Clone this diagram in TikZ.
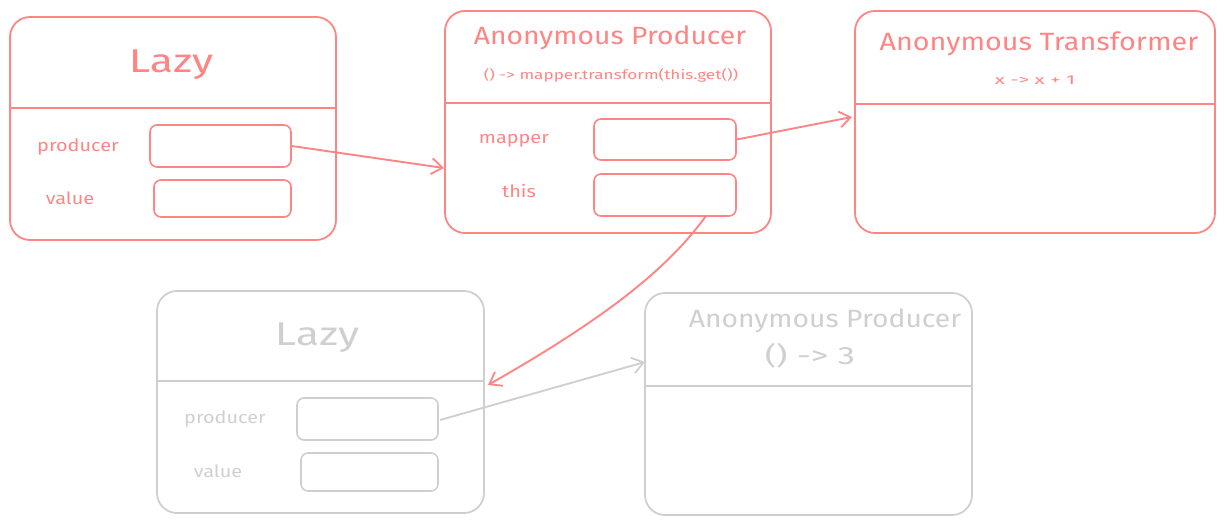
\documentclass[tikz,border=0pt]{standalone}
\usepackage{graphicx}
\usepackage{fontspec}
\setmainfont{Fira Sans}
\usetikzlibrary{arrows.meta}
\definecolor{rd}{HTML}{FF8585}
\definecolor{gy}{HTML}{CFCFCF}
\newcommand{\widetxt}[2]{\scalebox{#1}[1]{#2}}
\begin{document}
\begin{tikzpicture}[x=1pt,y=-1pt,
  outer/.style={draw, line width=1.8pt, rounded corners=20pt, inner sep=0pt},
  field/.style={draw, line width=1.6pt, rounded corners=7pt, inner sep=0pt},
  conn/.style={line width=1.9pt, -{Straight Barb[length=11pt,width=16pt,line width=1.8pt]}},
  bigtitle/.style={font=\fontsize{33}{35}\selectfont},
  title/.style={font=\fontsize{25}{27}\selectfont},
  sub/.style={font=\fontsize{13}{15}\selectfont},
  lbl/.style={font=\fontsize{17}{19}\selectfont}]
\useasboundingbox (0,0) rectangle (1226,525);
% ---- red Lazy
\begin{scope}[rd]
\node[outer, minimum width=326pt, minimum height=223pt] (L1) at (173,128.5) {};
\draw[line width=1.8pt] (10,108) -- (336,108);
\node[bigtitle, text=rd] (L1t) at (171,65) {\widetxt{1.3}{Lazy}};
\node[lbl, text=rd] (L1p) at (78,147) {\widetxt{1.17}{producer}};
\node[lbl, text=rd] (L1v) at (70,198) {\widetxt{1.17}{value}};
\node[field, minimum width=141pt, minimum height=42pt] (f1) at (220.5,146) {};
\node[field, minimum width=137pt, minimum height=37pt] (f2) at (222.5,198.5) {};
% ---- Anonymous Producer
\node[outer, minimum width=326pt, minimum height=222pt] (AP1) at (608,122) {};
\draw[line width=1.8pt] (445,103) -- (771,103);
\node[title, text=rd] (AP1t) at (610,38) {\widetxt{1.13}{Anonymous Producer}};
\node[sub, text=rd] (AP1s) at (611,75) {\widetxt{1.32}{() -> mapper.transform(this.get())}};
\node[lbl, text=rd] (AP1m) at (514,141) {\widetxt{1.17}{mapper}};
\node[lbl, text=rd] (AP1h) at (519,191) {\widetxt{1.17}{this}};
\node[field, minimum width=142pt, minimum height=41pt] (fm) at (665,139.5) {};
\node[field, minimum width=142pt, minimum height=42pt] (ft) at (665,195) {};
% ---- Anonymous Transformer
\node[outer, minimum width=360pt, minimum height=222pt] (AT) at (1035,122) {};
\draw[line width=1.8pt] (855,104) -- (1215,104);
\node[title, text=rd] (ATt) at (1039,44) {\widetxt{1.15}{Anonymous Transformer}};
\node[sub, text=rd] (ATs) at (1035,80) {\widetxt{1.6}{x -> x + 1}};
\end{scope}
% ---- grey Lazy
\begin{scope}[gy]
\node[outer, minimum width=327pt, minimum height=222pt] (L2) at (320.5,402) {};
\draw[line width=1.8pt] (157,381) -- (484,381);
\node[bigtitle, text=gy] (L2t) at (317,338) {\widetxt{1.3}{Lazy}};
\node[lbl, text=gy] (L2p) at (225,419) {\widetxt{1.17}{producer}};
\node[lbl, text=gy] (L2v) at (218,471) {\widetxt{1.17}{value}};
\node[field, minimum width=141pt, minimum height=42pt] (gp) at (367.5,419) {};
\node[field, minimum width=137pt, minimum height=38pt] (gv) at (369.5,472) {};
% ---- grey Anonymous Producer
\node[outer, minimum width=327pt, minimum height=222pt] (AP2) at (808.5,404) {};
\draw[line width=1.8pt] (645,386) -- (972,386);
\node[title, text=gy] (AP2t) at (825,321) {\widetxt{1.13}{Anonymous Producer}};
\node[title, text=gy] (AP2s) at (810,356) {\widetxt{1.4}{() -> 3}};
\end{scope}
% ---- connectors
\coordinate (a1) at (444,168);
\coordinate (a2) at (852,117);
\coordinate (a3s) at (706,216);
\coordinate (a3) at (488,385);
\coordinate (a4s) at (440,420);
\coordinate (a4) at (645,362);
\draw[conn, rd] (f1.east) -- (a1);
\draw[conn, rd] (fm.east) -- (a2);
\draw[conn, rd] (a3s) .. controls (672,262) and (620,310) .. (a3);
\draw[conn, gy] (a4s) -- (a4);
\end{tikzpicture}
\end{document}
